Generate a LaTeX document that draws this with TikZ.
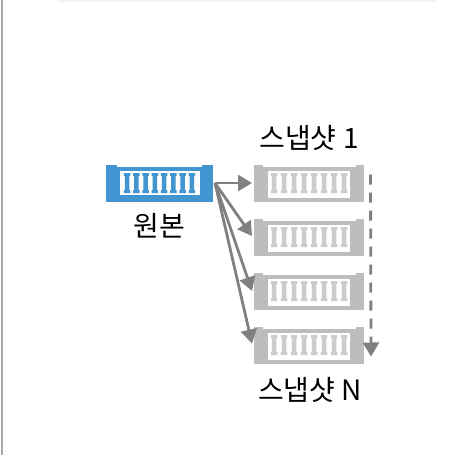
\documentclass[tikz,border=0pt]{standalone}
\usepackage{fontspec}
\setmainfont{Noto Sans CJK KR}
\usetikzlibrary{arrows.meta,positioning}
\definecolor{srcblue}{HTML}{4295D1}
\definecolor{snapgray}{HTML}{BDBDBD}
\definecolor{pingray}{HTML}{CCCCCC}
\definecolor{arrowgray}{HTML}{808080}
\newcommand{\modulepins}[5]{%
    \begin{scope}[shift={(#1.center)}]
        \fill[white] (-#2/2+8.5,-18.5) rectangle (#2/2-8.5,-16.5);
        \fill[white] (-#3,-12.5) rectangle (#3,#5);
        \foreach \i in {-3.5,-2.5,...,3.5} {
            \fill[#4] ({\i*#2/11-3.25},-10) -- ++(6.5,0) -- ++(0,3) -- ++(-1,0) -- ++(0,14) -- ++(1,0) -- ++(0,3)
                -- ++(-6.5,0) -- ++(0,-3) -- ++(1,0) -- ++(0,-14) -- ++(-1,0) -- cycle;
        }
    \end{scope}
}
\begin{document}
\begin{tikzpicture}[x=1pt,y=-1pt,>={Triangle[length=14pt,width=16pt]}]
        \tikzset{module/.style={rectangle,inner sep=0pt,outer sep=0pt,minimum height=37pt},
        srcmod/.style={module,fill=srcblue,minimum width=107pt},
        snapmod/.style={module,fill=snapgray,minimum width=110pt},
        caption/.style={inner sep=0pt,font=\fontsize{28}{32}\selectfont},
        link/.style={draw=arrowgray,line width=2.8pt,->},
        }
        \useasboundingbox (0,0) rectangle (474,455);
        \fill[black!33] (1,0) rectangle (3,455);
        \fill[black!5] (58,0) rectangle (435,1.5);
        \node [srcmod]  (src) at (159.5,183) {};
        \node [snapmod, right =41pt of src] (snapa) {};
        \node [snapmod, below =17pt of snapa] (snapb) {};
        \node [snapmod, below =17pt of snapb] (snapc) {};
        \node [snapmod, below =17pt of snapc] (snapn) {};
        \modulepins{src}{102}{40}{srcblue}{12}
        \foreach \n in {snapa,snapb,snapc,snapn} {
            \modulepins{\n}{110}{41}{pingray}{14.5}
        }
        \node [caption, below =12pt of src] (srclabel) {원본};
        \node [caption, above =14pt of snapa] (snapalabel) {스냅샷 1};
        \node [caption, below =14pt of snapn, xshift=1pt] (snapnlabel) {스냅샷 N};
        \coordinate (fanout) at ([xshift=2pt]src.east);
        \coordinate (dashtop) at ([xshift=6.5pt,yshift=-10pt]snapa.north east);
        \coordinate (dashend) at ([xshift=7pt,yshift=7pt]snapn.south east);
%% paths
        \path[every edge/.style={link}] (fanout) edge ([xshift=-2pt]snapa.west)
                    (fanout) edge ([xshift=-2pt,yshift=1pt]snapb.west)
                    (fanout) edge ([xshift=-2pt]snapc.west)
                    (fanout) edge ([xshift=-2pt,yshift=1.5pt]snapn.west)
                    ;
        \draw[link,dash pattern=on 10pt off 8pt] (dashtop) -- (dashend);
    \end{tikzpicture}
\end{document}
